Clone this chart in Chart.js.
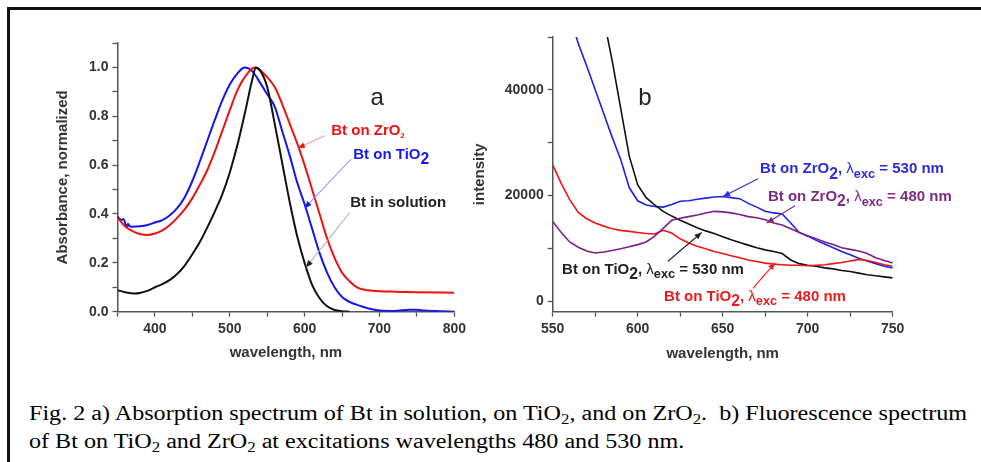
<!DOCTYPE html>
<html>
<head>
<meta charset="utf-8">
<script src="https://cdn.jsdelivr.net/npm/chart.js@4.4.1/dist/chart.umd.min.js"></script>
<style>
  body { margin: 0; width: 981px; height: 462px; background: #fff; position: relative; overflow: hidden; }
  #frame { position: absolute; left: 7px; top: 7px; width: 990px; height: 470px;
           border-top: 3px solid #111; border-left: 3px solid #111; }
  canvas { position: absolute; top: 0; }
  #caption { position: absolute; left: 29px; top: 399px; font-family: 'Liberation Serif', 'Times New Roman', serif;
             font-size: 20px; line-height: 28px; white-space: nowrap; color: #000; transform-origin: 0 0; }
  #caption sub { font-size: 0.7em; vertical-align: -0.25em; line-height: 0; }
</style>
</head>
<body>
<div id="frame"></div>
<canvas id="chartA" width="470" height="380" style="left:0"></canvas>
<canvas id="chartB" width="511" height="380" style="left:470px"></canvas>
<div id="caption"><span id="cap1">Fig. 2 a) Absorption spectrum of Bt in solution, on TiO<sub>2</sub>, and on ZrO<sub>2</sub>.&nbsp; b) Fluorescence spectrum</span><br><span>of Bt on TiO<sub>2</sub> and ZrO<sub>2</sub> at excitations wavelengths 480 and 530 nm.</span></div>

<script>
// --- panel a: absorption (normalized)
const solutionNm  = [350,360,373,380,390,400,410,420,430,440,450,460,470,480,490,500,510,520,530,535,540,550,560,570,580,590,600,610,620,630,640,650,660];
const solutionAbs = [.088,.08,.075,.077,.085,.10,.113,.13,.155,.19,.235,.285,.345,.41,.48,.57,.68,.81,.95,1.0,.99,.92,.77,.61,.45,.31,.20,.11,.055,.022,.007,.002,0];

const tio2Nm  = [350,355,358,360,362,364,366,370,380,390,400,410,420,430,440,450,460,470,480,490,500,510,520,530,540,550,560,570,580,590,600,610,620,630,640,650,660,670,680,690,700,720,740,750,760,780,800];
const tio2Abs = [.39,.375,.38,.365,.345,.36,.35,.348,.35,.355,.365,.375,.395,.425,.47,.535,.615,.70,.785,.865,.93,.975,1.0,.985,.94,.89,.84,.74,.64,.53,.44,.34,.24,.16,.10,.06,.04,.028,.018,.01,.005,.003,.008,.008,.005,.002,0];

const zro2Nm  = [350,360,370,380,390,400,410,420,430,440,450,460,470,480,490,500,510,520,533,540,550,560,570,580,590,600,610,620,630,640,650,660,670,680,690,700,720,750,800];
const zro2Abs = [.385,.35,.33,.318,.314,.32,.333,.355,.385,.42,.465,.52,.58,.655,.74,.825,.905,.96,1.0,.99,.96,.92,.85,.77,.69,.60,.50,.40,.30,.22,.16,.125,.10,.09,.086,.084,.082,.08,.078];

// --- panel b: fluorescence, 550..750 nm every 5 nm
const fluorNm = [550,555,560,565,570,575,580,585,590,595,600,605,610,615,620,625,630,635,640,645,650,655,660,665,670,675,680,685,690,695,700,705,710,715,720,725,730,735,740,745,750];
const zro2Exc530 = [null,null,54000,48800,44500,40000,35500,31000,26800,21500,19000,18200,17900,17800,18300,18900,19000,19300,19500,19700,19800,19600,19400,18500,17800,17000,16700,16500,14800,13000,12300,11500,10800,10100,9400,8800,8100,7600,7100,6600,6300];
const zro2Exc480 = [15100,13000,11200,10200,9500,9100,9300,9600,9900,10300,10700,11200,12300,13800,15300,15700,16000,16300,16700,17000,16900,16700,16400,16000,15800,15400,14800,14400,13700,13000,12400,11800,11200,10700,10100,9800,9500,9000,8200,7700,7200];
const tio2Exc530 = [null,null,null,null,null,null,53500,45500,36500,27500,22000,19600,18200,17000,16100,15300,14600,13900,13300,12800,12200,11600,11100,10600,10100,9700,9400,9000,7800,7100,6800,6600,6300,6100,5800,5600,5300,5000,4800,4600,4400];
const tio2Exc480 = [25800,22300,19200,16800,15600,14800,14200,13700,13400,13200,13000,12800,12700,13400,12900,11800,11000,10400,9900,9400,9000,8600,8200,7800,7500,7200,7000,6900,6800,6800,6700,6800,6900,7100,7300,7600,7900,7700,7300,6900,6600];
const intensityTicks = [0, 10000, 20000, 30000, 40000, 50000];

const FONT = "'Liberation Sans', Arial, sans-serif";
const tickFont = { family: FONT, size: 14, weight: 'bold' };
const titleFont = { family: FONT, size: 15, weight: 'bold' };

function pts(xs, ys) {
    return xs.map((v, i) => ({ x: v, y: ys[i] }));
}

// texte avec indices (TiO2, λexc ...)
function drawRich(ctx, x, y, parts, color, size, align) {
    const fontOf = p => (p.w || 'bold') + ' ' + (size * (p.k || 1)) + 'px ' + FONT;
    let total = 0;
    parts.forEach(p => { ctx.font = fontOf(p); total += ctx.measureText(p.t).width; });
    let cx = align === 'center' ? x - total / 2 : x;
    ctx.fillStyle = color;
    ctx.textAlign = 'left';
    ctx.textBaseline = 'middle';
    parts.forEach(p => {
        ctx.font = fontOf(p);
        ctx.fillText(p.t, cx, y + (p.sub ? size * 0.35 : 0));
        cx += ctx.measureText(p.t).width;
    });
}

const notesPlugin = {
    id: 'notes',
    afterDatasetsDraw(chart, args, opts) {
        const { ctx, scales: { x, y } } = chart;
        ctx.save();
        (opts.arrows || []).forEach(a => {
            const x0 = x.getPixelForValue(a.from[0]), y0 = y.getPixelForValue(a.from[1]);
            const x1 = x.getPixelForValue(a.to[0]), y1 = y.getPixelForValue(a.to[1]);
            const ang = Math.atan2(y1 - y0, x1 - x0);
            ctx.strokeStyle = a.line;
            ctx.lineWidth = 1.1;
            ctx.beginPath();
            ctx.moveTo(x0, y0);
            ctx.lineTo(x1, y1);
            ctx.stroke();
            ctx.fillStyle = a.head;
            ctx.beginPath();
            ctx.moveTo(x1, y1);
            ctx.lineTo(x1 - 7 * Math.cos(ang) + 3 * Math.sin(ang), y1 - 7 * Math.sin(ang) - 3 * Math.cos(ang));
            ctx.lineTo(x1 - 7 * Math.cos(ang) - 3 * Math.sin(ang), y1 - 7 * Math.sin(ang) + 3 * Math.cos(ang));
            ctx.closePath();
            ctx.fill();
        });
        (opts.labels || []).forEach(l => {
            drawRich(ctx, x.getPixelForValue(l.at[0]), y.getPixelForValue(l.at[1]), l.parts, l.color, l.size || 15, l.align);
        });
        ctx.restore();
    }
};

function axis(min, max, step, label, fmt, size, pad) {
    return {
        type: 'linear', min: min, max: max,
        ticks: { stepSize: step, autoSkip: false, maxRotation: 0, color: '#333', font: tickFont, padding: 4, callback: fmt },
        grid: { drawOnChartArea: false, tickLength: 5, tickWidth: 1.3, tickColor: '#555' },
        border: { color: '#555', width: 1.5 },
        title: { display: true, text: label, color: '#333', font: titleFont, padding: pad },
        afterFit: s => { if (s.isHorizontal()) s.height = size; else s.width = size; }
    };
}

const baseOpts = {
    responsive: false,
    animation: false,
    devicePixelRatio: 1,
    plugins: { legend: { display: false }, tooltip: { enabled: false } },
    elements: { point: { radius: 0 } }
};

// panel a
new Chart(document.getElementById('chartA'), {
    type: 'line',
    data: {
        datasets: [
            { data: pts(solutionNm, solutionAbs), borderColor: '#111', borderWidth: 2, cubicInterpolationMode: 'monotone' },
            { data: pts(zro2Nm, zro2Abs), borderColor: '#ee1111', borderWidth: 2, cubicInterpolationMode: 'monotone' },
            { data: pts(tio2Nm, tio2Abs), borderColor: '#1515f0', borderWidth: 2, cubicInterpolationMode: 'monotone' }
        ]
    },
    options: Object.assign({}, baseOpts, {
        layout: { padding: { left: 0, top: 43, right: 15, bottom: 8.3 } },
        scales: {
            x: axis(350, 800, 50, 'wavelength, nm', v => v % 100 === 0 ? v : '', 60, { top: 0, bottom: 9.7 }),
            y: axis(0, 1.1, 0.1, 'Absorbance, normalized', v => {
                const t = Math.round(v * 10);
                return (t % 2 === 0 && t <= 10) ? (t / 10).toFixed(1) : '';
            }, 117.5, { top: 54, bottom: 0 })
        },
        plugins: Object.assign({}, baseOpts.plugins, {
            notes: {
                arrows: [
                    { from: [626.7, 0.72], to: [591, 0.67], line: '#f49a9a', head: '#e01515' },
                    { from: [662, 0.625], to: [600, 0.424], line: '#9a9af4', head: '#1515e0' },
                    { from: [660, 0.405], to: [602, 0.182], line: '#aaa', head: '#222' }
                ],
                labels: [
                    { at: [697, 0.875], parts: [{ t: 'a', w: 'normal' }], color: '#222', size: 24, align: 'center' },
                    { at: [635.6, 0.741], parts: [{ t: 'Bt on ZrO' }, { t: '2', sub: true, k: 0.5 }], color: '#e81414' },
                    { at: [665, 0.642], parts: [{ t: 'Bt on TiO' }, { t: '2', sub: true, k: 1.05 }], color: '#1a1ae8' },
                    { at: [661, 0.445], parts: [{ t: 'Bt in solution' }], color: '#222' }
                ]
            }
        })
    }),
    plugins: [notesPlugin]
});

// panel b
const sub = (t, k) => ({ t: t, sub: true, k: k || 0.9 });
function excLabel(sample, nm) {
    return [{ t: 'Bt on ' + sample }, sub('2', 1.05), { t: ', ' }, { t: 'λ', w: 'normal' }, sub('exc', 0.85), { t: ' = ' + nm + ' nm' }];
}

const intensityAxis = axis(-2000, 50000, 10000, 'intensity', v => v % 20000 === 0 ? String(v) : '', 82.7, { top: 1.3, bottom: 0 });
// graduations imposées (l'axe descend à -2000 mais les ticks partent de 0)
intensityAxis.afterBuildTicks = a => { a.ticks = intensityTicks.map(v => ({ value: v })); };

new Chart(document.getElementById('chartB'), {
    type: 'line',
    data: {
        datasets: [
            { data: pts(fluorNm, zro2Exc480), borderColor: '#7a1f8a', borderWidth: 1.6 },
            { data: pts(fluorNm, tio2Exc480), borderColor: '#ee1515', borderWidth: 1.6 },
            { data: pts(fluorNm, tio2Exc530), borderColor: '#111', borderWidth: 1.6 },
            { data: pts(fluorNm, zro2Exc530), borderColor: '#2020e8', borderWidth: 1.6 }
        ]
    },
    options: Object.assign({}, baseOpts, {
        layout: { padding: { left: 0, top: 37, right: 88.3, bottom: 8.3 } },
        scales: {
            x: axis(550, 750, 25, 'wavelength, nm', v => v % 50 === 0 ? v : '', 60, { top: 0, bottom: 9 }),
            y: intensityAxis
        },
        plugins: Object.assign({}, baseOpts.plugins, {
            notes: {
                arrows: [
                    { from: [670.8, 23150], to: [650.2, 19800], line: '#2b2bd9', head: '#2b2bd9' },
                    { from: [692.5, 18050], to: [675.9, 14800], line: '#7d2a85', head: '#7d2a85' },
                    { from: [617.8, 7550], to: [637.6, 13000], line: '#222', head: '#222' },
                    { from: [667.8, 2400], to: [680.8, 7250], line: '#e81c1c', head: '#e81c1c' }
                ],
                labels: [
                    { at: [604.3, 38400], parts: [{ t: 'b', w: 'normal' }], color: '#222', size: 24, align: 'center' },
                    { at: [672, 25000], parts: excLabel('ZrO', 530), color: '#2b2bd9' },
                    { at: [676.6, 19750], parts: excLabel('ZrO', 480), color: '#7d2a85' },
                    { at: [555.5, 5980], parts: excLabel('TiO', 530), color: '#222' },
                    { at: [615.5, 890], parts: excLabel('TiO', 480), color: '#e81c1c' }
                ]
            }
        })
    }),
    plugins: [notesPlugin]
});

// caption: fit first line to the reference width
const cap = document.getElementById('caption');
const w1 = document.getElementById('cap1').getBoundingClientRect().width;
cap.style.transform = 'scaleX(' + (938 / w1) + ')';
</script>
</body>
</html>
